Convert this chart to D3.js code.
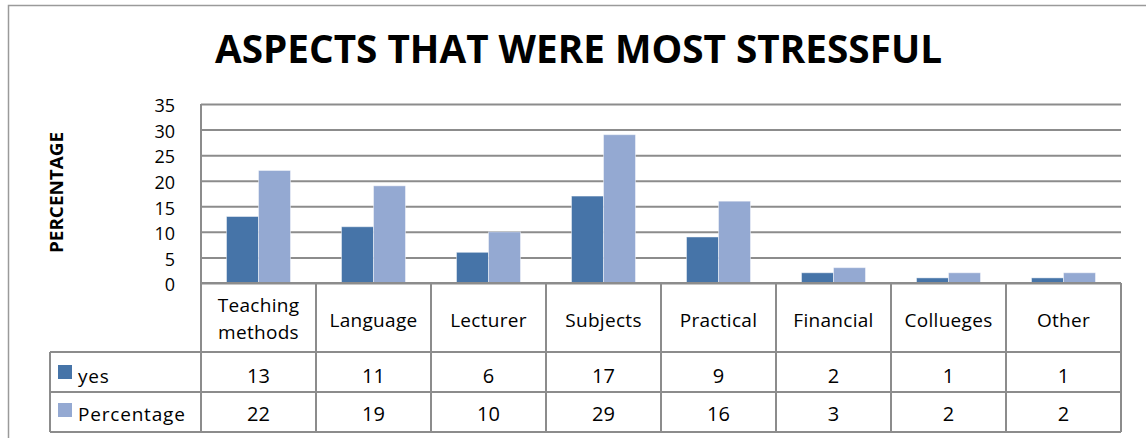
<!DOCTYPE html>
<html>
<head>
<meta charset="utf-8">
<script src="https://cdn.jsdelivr.net/npm/d3@7"></script>
<style>
  html, body { margin: 0; padding: 0; background: #fff; }
  svg { display: block; }
  text { font-family: "Open Sans", "DejaVu Sans", sans-serif; fill: #000; }
</style>
</head>
<body>
<svg id="chart" width="1146" height="438"></svg>
<script>
// ---- data ----
const categories = [["Teaching", "methods"], ["Language"], ["Lecturer"], ["Subjects"], ["Practical"], ["Financial"], ["Collueges"], ["Other"]];
const seriesNames = ["yes", "Percentage"];
const yesValues = [13, 11, 6, 17, 9, 2, 1, 1];
const percentageValues = [22, 19, 10, 29, 16, 3, 2, 2];
const yTicks = [0, 5, 10, 15, 20, 25, 30, 35];
const titleText = "ASPECTS THAT WERE MOST STRESSFUL";
const yLabel = "PERCENTAGE";
const colors = ["#4674A8", "#94A9D2"];

// ---- layout ----
const svg = d3.select("#chart");
const plotL = 201, plotR = 1121, plotT = 104, plotB = 283;
const tableL = 50;
const rowY = [283, 352, 392, 432];
const gridColor = "#8c8c8c";

const seriesValues = [yesValues, percentageValues];
const catKeys = categories.map(c => c.join(" "));

const x0 = d3.scaleBand().domain(catKeys).range([plotL, plotR]).paddingInner(0).paddingOuter(0);
const x1 = d3.scaleBand().domain(seriesNames).range([0, x0.bandwidth()]).paddingInner(0).paddingOuter(0.797);
const y = d3.scaleLinear().domain([0, 35]).range([plotB, plotT]);

// outer frame
svg.append("rect").attr("x", 8.5).attr("y", 5.5).attr("width", 1140).attr("height", 440)
  .attr("fill", "none").attr("stroke", "#9a9a9a").attr("stroke-width", 1.5);

// title
svg.append("text").attr("x", 578.5).attr("y", 63).attr("text-anchor", "middle")
  .attr("font-size", 39).attr("font-weight", "bold")
  .attr("textLength", 727).attr("lengthAdjust", "spacingAndGlyphs")
  .text(titleText);

// y label
svg.append("text").attr("transform", "translate(63,192.5) rotate(-90)")
  .attr("text-anchor", "middle").attr("font-size", 18).attr("font-weight", "bold")
  .attr("textLength", 121).attr("lengthAdjust", "spacingAndGlyphs")
  .text(yLabel);

// gridlines
const grid = svg.append("g").attr("transform", `translate(${plotL},0)`)
  .call(d3.axisLeft(y).tickValues(yTicks).tickSize(-(plotR - plotL)).tickFormat(""));
grid.select(".domain").remove();
grid.selectAll("line").attr("stroke", gridColor).attr("stroke-width", 2);

// y tick labels
const yAxis = svg.append("g").attr("transform", `translate(${plotL},2)`)
  .call(d3.axisLeft(y).tickValues(yTicks).tickSize(0).tickPadding(26));
yAxis.select(".domain").remove();
yAxis.selectAll("text").attr("font-size", 18).attr("font-family", "\"Open Sans\", sans-serif").attr("fill", "#000");

// bars
const groups = svg.append("g").selectAll("g").data(catKeys).join("g")
  .attr("transform", d => `translate(${x0(d)},0)`);
groups.selectAll("rect").data((d, i) => seriesNames.map((s, si) => ({ s, si, v: seriesValues[si][i] })))
  .join("rect")
  .attr("x", d => x1(d.s))
  .attr("y", d => y(d.v))
  .attr("width", x1.bandwidth())
  .attr("height", d => y(0) - y(d.v))
  .attr("fill", d => colors[d.si])
  .attr("stroke", "#ffffff").attr("stroke-opacity", 0.45).attr("stroke-width", 1);

// table lines
const tbl = svg.append("g").attr("stroke", gridColor).attr("stroke-width", 2).attr("fill", "none");
tbl.append("line").attr("x1", plotL).attr("x2", plotL).attr("y1", plotT).attr("y2", rowY[3]);
tbl.append("line").attr("x1", plotL).attr("x2", plotR).attr("y1", y(0)).attr("y2", y(0));
[rowY[1], rowY[2], rowY[3]].forEach(yy => {
  tbl.append("line").attr("x1", tableL).attr("x2", plotR).attr("y1", yy).attr("y2", yy);
});
tbl.append("line").attr("x1", tableL).attr("x2", tableL).attr("y1", rowY[1]).attr("y2", rowY[3]);
catKeys.forEach(k => {
  const xr = x0(k) + x0.bandwidth();
  tbl.append("line").attr("x1", xr).attr("x2", xr).attr("y1", rowY[0]).attr("y2", rowY[3]);
});

// category labels
const catText = svg.append("g").selectAll("text").data(categories).join("text")
  .attr("x", (d, i) => x0(catKeys[i]) + x0.bandwidth() / 2)
  .attr("text-anchor", "middle").attr("font-size", 19).attr("letter-spacing", 0.3);
catText.each(function (d) {
  const t = d3.select(this);
  if (d.length === 1) {
    t.append("tspan").attr("x", t.attr("x")).attr("y", 327).text(d[0]);
  } else {
    t.append("tspan").attr("x", t.attr("x")).attr("y", 312).text(d[0]);
    t.append("tspan").attr("x", t.attr("x")).attr("y", 339).text(d[1]);
  }
});

// value rows
const rowBase = [383, 421];
seriesNames.forEach((s, si) => {
  svg.append("rect").attr("x", 58).attr("y", rowBase[si] - 18).attr("width", 14).attr("height", 14)
    .attr("fill", colors[si]);
  svg.append("text").attr("x", 78).attr("y", rowBase[si]).attr("font-size", 19).attr("letter-spacing", 0.8).text(s);
  svg.append("g").selectAll("text").data(seriesValues[si]).join("text")
    .attr("x", (d, i) => x0(catKeys[i]) + x0.bandwidth() / 2)
    .attr("y", rowBase[si]).attr("text-anchor", "middle").attr("font-size", 20)
    .text(d => d);
});
</script>
</body>
</html>
